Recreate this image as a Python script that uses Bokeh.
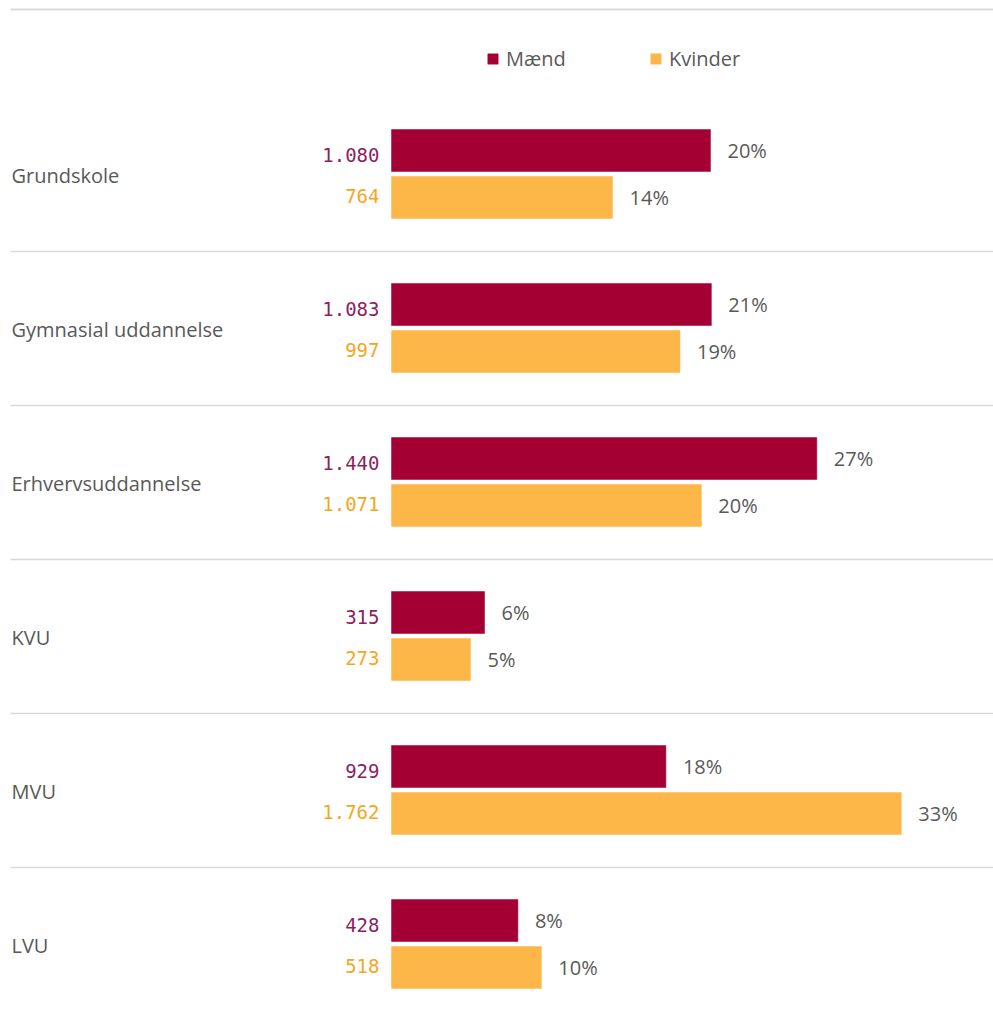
from bokeh.plotting import figure
from bokeh.models import Range1d, ColumnDataSource, Legend, LegendItem
from bokeh.core.properties import value
from bokeh.embed import file_html
from bokeh.resources import INLINE

# ---- data ----
categories = ["Grundskole", "Gymnasial uddannelse", "Erhvervsuddannelse", "KVU", "MVU", "LVU"]
maend = [1080, 1083, 1440, 315, 929, 428]
kvinder = [764, 997, 1071, 273, 1762, 518]
series_names = ["Mænd", "Kvinder"]

# ---- styles ----
C_M = "#A50034"
C_K = "#FDB748"
C_M_TXT = "#8C1F5F"
C_K_TXT = "#F5A623"
C_TXT = "#595959"
C_LINE = "#D9D9D9"

W, H = 993, 999
PX_PER_PCT = 15.58
ZERO_PX = 391
ROW_PX = 154
ROW0_PX = 173.5

x0 = -ZERO_PX / PX_PER_PCT
x1 = (W - ZERO_PX) / PX_PER_PCT
y_top = -ROW0_PX / ROW_PX
y_bot = (H - ROW0_PX) / ROW_PX

def px_x(px):
    return x0 + px / PX_PER_PCT

def px_y(px):
    return y_top + px / ROW_PX

tot_m = sum(maend)
tot_k = sum(kvinder)
pct_m = [v / tot_m * 100 for v in maend]
pct_k = [v / tot_k * 100 for v in kvinder]

def fmt(n):
    return f"{n:,}".replace(",", ".")

idx = list(range(len(categories)))
off = 23.5 / ROW_PX
bh = 42 / ROW_PX

src_m = ColumnDataSource(dict(
    y=[i - off for i in idx], right=pct_m,
    cnt=[fmt(v) for v in maend], pl=[f"{round(p)}%" for p in pct_m]))
src_k = ColumnDataSource(dict(
    y=[i + off for i in idx], right=pct_k,
    cnt=[fmt(v) for v in kvinder], pl=[f"{round(p)}%" for p in pct_k]))

p = figure(width=W, height=H, x_range=Range1d(x0, x1), y_range=Range1d(y_bot, y_top),
           output_backend="svg", toolbar_location=None, min_border=0,
           x_axis_type=None, y_axis_type=None)
p.grid.visible = False
p.outline_line_color = None
p.background_fill_color = "white"
p.border_fill_color = "white"

# separators: top rule + one between each pair of rows
sep_y = [px_y(9)] + [px_y(251 + ROW_PX * i) for i in idx[:-1]]
p.segment(x0=[px_x(10)] * len(sep_y), x1=[x1] * len(sep_y), y0=sep_y, y1=sep_y,
          line_color=C_LINE, line_width=[2] + [1.5] * (len(sep_y) - 1))

rm = p.hbar(y="y", left=0, right="right", height=bh, source=src_m,
            fill_color=C_M, line_color=C_M, line_width=0.5)
rk = p.hbar(y="y", left=0, right="right", height=bh, source=src_k,
            fill_color=C_K, line_color=C_K, line_width=0.5)

# percent labels
for src in (src_m, src_k):
    p.text(x="right", y="y", text="pl", source=src, x_offset=17,
           text_font=value("Open Sans"), text_font_size="20px", text_color=C_TXT,
           text_align="left", text_baseline="middle")

# count labels
p.text(x=0, y="y", text="cnt", source=src_m, x_offset=-12, y_offset=4,
       text_font=value("DejaVu Sans Mono"), text_font_size="19px", text_color=C_M_TXT,
       text_align="right", text_baseline="middle")
p.text(x=0, y="y", text="cnt", source=src_k, x_offset=-12, y_offset=-2,
       text_font=value("DejaVu Sans Mono"), text_font_size="19px", text_color=C_K_TXT,
       text_align="right", text_baseline="middle")

# category labels
p.text(x=[px_x(11)] * len(categories), y=idx, text=categories, y_offset=1,
       text_font=value("Open Sans"), text_font_size="20px", text_color=C_TXT,
       text_align="left", text_baseline="middle")

legend = Legend(items=[LegendItem(label=series_names[0], renderers=[rm]),
                       LegendItem(label=series_names[1], renderers=[rk])],
                location=(486, 927), orientation="horizontal",
                glyph_width=13, glyph_height=13, label_standoff=7, label_width=143,
                spacing=0, padding=0, margin=0,
                label_text_font="Open Sans", label_text_font_size="20px",
                label_text_color=C_TXT, border_line_alpha=0, background_fill_alpha=0)
p.add_layout(legend)

open("out.html", "w").write(file_html(p, INLINE))
